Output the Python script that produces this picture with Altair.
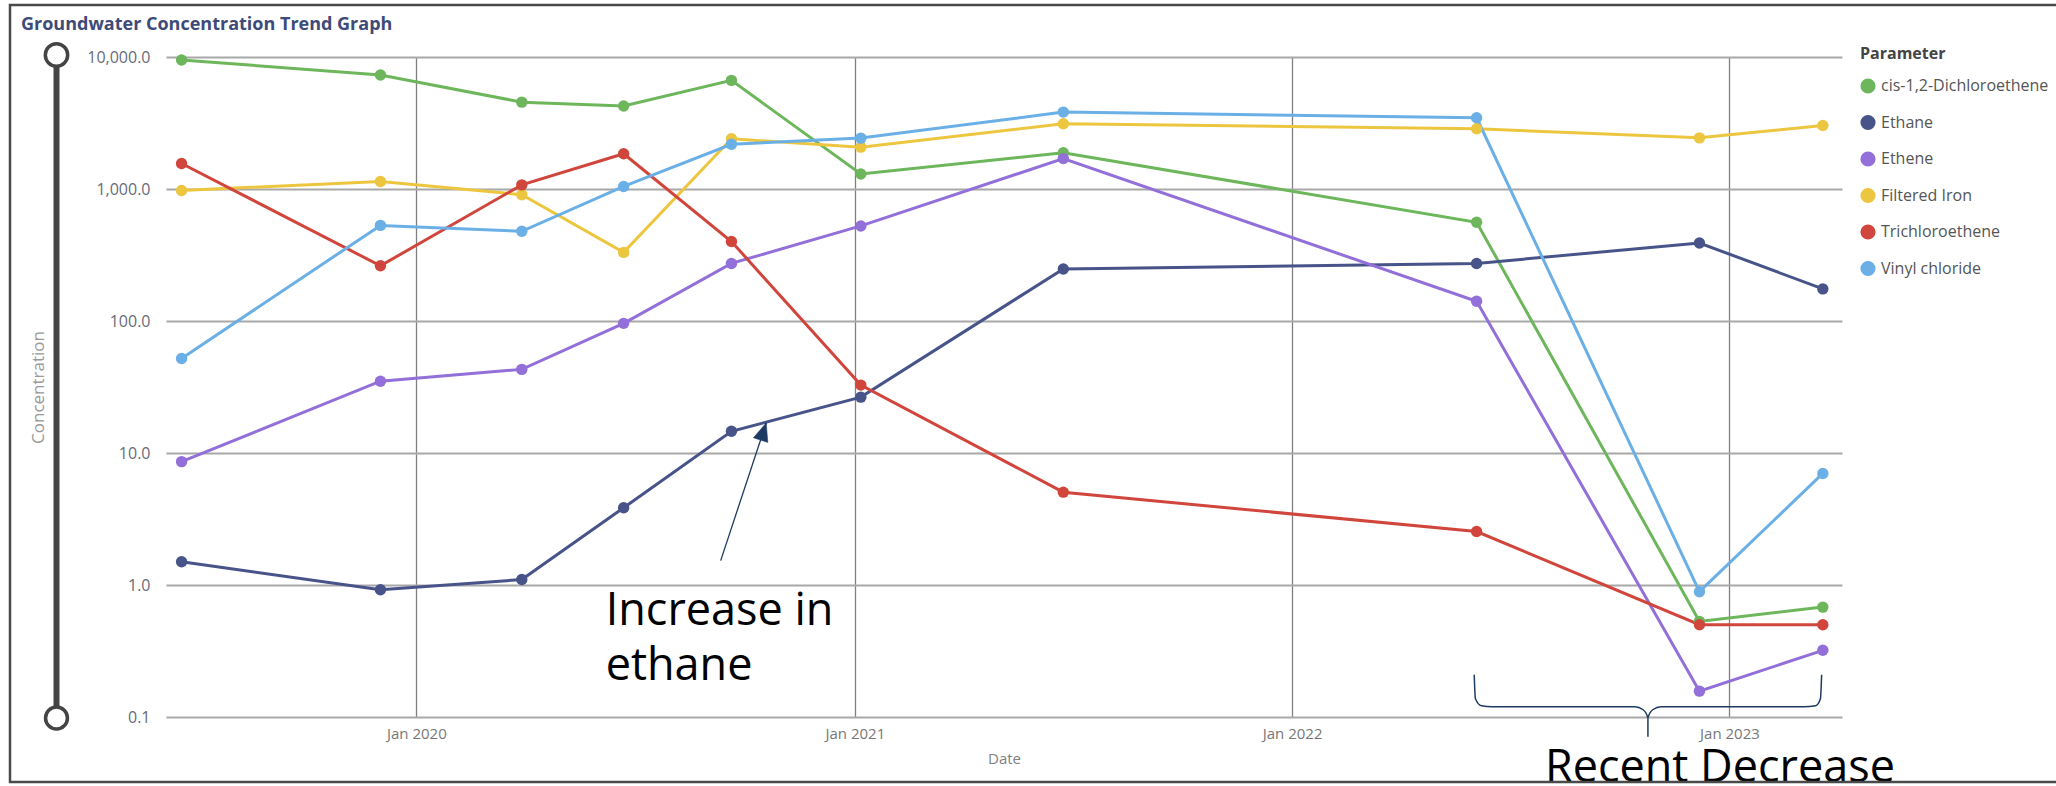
import altair as alt
import pandas as pd

# ---- sampling events (shared by every parameter) ----
sample_dates = [
    "2019-06-19", "2019-12-02", "2020-03-29", "2020-06-22", "2020-09-20",
    "2021-01-06", "2021-06-24", "2022-06-04", "2022-12-07", "2023-03-20",
]

parameters = [
    "cis-1,2-Dichloroethene", "Ethane", "Ethene",
    "Filtered Iron", "Trichloroethene", "Vinyl chloride",
]
palette = ["#6DB65B", "#475389", "#926FD9", "#EDC640", "#D1463C", "#6AAFE6"]

# ---- concentrations per parameter ----
cis_dce = [9500, 7300, 4550, 4250, 6650, 1300, 1880, 560, 0.53, 0.68]
ethane = [1.5, 0.92, 1.1, 3.85, 14.6, 26.5, 248, 273, 390, 175]
ethene = [8.6, 35, 43, 96, 273, 525, 1700, 141, 0.157, 0.32]
filtered_iron = [975, 1140, 905, 331, 2400, 2075, 3120, 2860, 2440, 3030]
tce = [1560, 262, 1075, 1850, 400, 32.7, 5.05, 2.54, 0.5, 0.5]
vinyl_chloride = [52, 530, 478, 1045, 2180, 2430, 3825, 3465, 0.89, 7.0]

series = [cis_dce, ethane, ethene, filtered_iron, tce, vinyl_chloride]

# ---- callouts (in date / concentration units) ----
arrow_dates = ["2020-09-11", "2020-10-19"]
arrow_values = [1.53, 16.9]

brace_dates = [
    "2022-06-02", "2022-06-03", "2022-06-08", "2022-06-17", "2022-10-14",
    "2022-10-21", "2022-10-25", "2022-10-25", "2022-10-25", "2022-10-29",
    "2022-11-05", "2023-03-04", "2023-03-14", "2023-03-18", "2023-03-19",
]
brace_values = [
    0.209, 0.1374, 0.1216, 0.1196, 0.1196,
    0.1135, 0.0986, 0.0708, 0.0986, 0.1135,
    0.1196, 0.1196, 0.1216, 0.1374, 0.209,
]

note_texts = ["Increase in\nethane", "Recent Decrease"]
note_dates = ["2020-06-07", "2022-07-31"]
note_values = [0.501, 0.0322]

chart_title = "Groundwater Concentration Trend Graph"

FONT = "Open Sans"
NAVY = "#1d3a63"

rows = []
for name, vals in zip(parameters, series):
    for d, v in zip(sample_dates, vals):
        rows.append({"Parameter": name, "Series": name, "Date": d, "Concentration": v})
df = pd.DataFrame(rows)

x_scale = alt.Scale(
    domain=[alt.DateTime(year=2019, month=6, date=6),
            alt.DateTime(year=2023, month=4, date=5)]
)
y_scale = alt.Scale(type="log", domain=[0.1, 10000], nice=False)

x_enc = alt.X(
    "Date:T",
    scale=x_scale,
    title="Date",
    axis=alt.Axis(
        values=[alt.DateTime(year=yr, month=1, date=1) for yr in (2020, 2021, 2022, 2023)],
        format="%b %Y",
        labelFont=FONT, labelFontSize=15, labelColor="#777777",
        labelPadding=9, ticks=False, tickSize=0, domain=False,
        grid=True, gridColor="#808080", gridWidth=1.3,
        titleFont=FONT, titleFontSize=15, titleFontWeight="normal",
        titleColor="#808080", titlePadding=10,
    ),
)
y_enc = alt.Y(
    "Concentration:Q",
    scale=y_scale,
    title="Concentration",
    axis=alt.Axis(
        values=[0.1, 1, 10, 100, 1000, 10000],
        format=",.1f",
        labelFont=FONT, labelFontSize=16, labelColor="#686b78",
        labelPadding=16, ticks=False, tickSize=0, domain=False,
        grid=True, gridColor="#a8a8a8", gridWidth=1.8,
        titleFont=FONT, titleFontSize=17, titleFontWeight="normal",
        titleColor="#999999", titlePadding=39,
    ),
)

# connecting lines: their own stroke scale with no legend
lines = alt.Chart(df).mark_line(strokeWidth=3).encode(
    x=x_enc, y=y_enc,
    stroke=alt.Stroke(
        "Series:N", scale=alt.Scale(domain=parameters, range=palette), legend=None
    ),
)

# sample markers carry the Parameter legend
points = alt.Chart(df).mark_circle(size=130, opacity=1).encode(
    x="Date:T", y="Concentration:Q",
    color=alt.Color(
        "Parameter:N", scale=alt.Scale(domain=parameters, range=palette),
        legend=alt.Legend(
            title="Parameter", orient="none", legendX=1694, legendY=-11,
            titleFont=FONT, titleFontSize=16, titleFontWeight="bold",
            titleColor="#444444", titlePadding=16,
            labelFont=FONT, labelFontSize=16, labelColor="#555555",
            labelOffset=5, labelLimit=0, symbolType="circle", symbolSize=230,
            symbolStrokeWidth=0, rowPadding=20.5, padding=0,
        ),
    ),
)

# arrow pointing at the rising ethane series
arrow_df = pd.DataFrame({"Date": arrow_dates, "Concentration": arrow_values})
arrow_shaft = alt.Chart(arrow_df).mark_line(color=NAVY, strokeWidth=1.3).encode(
    x="Date:T", y="Concentration:Q"
)
arrow_head = alt.Chart(arrow_df.tail(1)).mark_point(
    shape="M0,0 L-0.42,1 L0.42,1 Z", filled=True, fill=NAVY,
    stroke=NAVY, strokeWidth=0.5, size=1300, angle=18, opacity=1,
).encode(x="Date:T", y="Concentration:Q")

# curly brace grouping the latest samples
brace_df = pd.DataFrame({
    "Date": brace_dates, "Concentration": brace_values,
    "step": list(range(len(brace_dates))),
})
brace = alt.Chart(brace_df).mark_line(
    color=NAVY, strokeWidth=1.5, interpolate="monotone"
).encode(x="Date:T", y="Concentration:Q", order="step:Q")

notes_df = pd.DataFrame({"Date": note_dates, "Concentration": note_values, "note": note_texts})
notes = alt.Chart(notes_df).mark_text(
    align="left", baseline="alphabetic", font=FONT, fontSize=45,
    lineHeight=55, lineBreak="\n", color="#000000",
).encode(x="Date:T", y="Concentration:Q", text="note:N")

# chart heading, zoom slider along the value axis, and the outer frame
one = pd.DataFrame({"k": [0]})
heading = alt.Chart(one).mark_text(
    text=chart_title, align="left", baseline="alphabetic",
    font=FONT, fontSize=18, fontWeight="bold", color="#3e4a78",
).encode(x=alt.value(-145), y=alt.value(-27.5))
slider_bar = alt.Chart(one).mark_rule(color="#444444", strokeWidth=6).encode(
    x=alt.value(-109.5), y=alt.value(10), y2=alt.value(650)
)
slider_top = alt.Chart(one).mark_point(
    shape="circle", filled=True, fill="white", stroke="#444444",
    strokeWidth=3.5, size=500, opacity=1,
).encode(x=alt.value(-109.5), y=alt.value(-2))
slider_bottom = alt.Chart(one).mark_point(
    shape="circle", filled=True, fill="white", stroke="#444444",
    strokeWidth=3.5, size=480, opacity=1,
).encode(x=alt.value(-109.5), y=alt.value(661))
frame = alt.Chart(one).mark_rect(
    fillOpacity=0, stroke="#4a4a4a", strokeWidth=2.5
).encode(
    x=alt.value(-156), y=alt.value(-52), x2=alt.value(1910), y2=alt.value(725)
)

chart = alt.layer(
    lines, points, arrow_shaft, arrow_head, brace, notes,
    heading, slider_bar, slider_top, slider_bottom, frame,
).resolve_scale(
    color="independent", stroke="independent"
).properties(
    width=1676,
    height=660,
    padding={"left": 166, "top": 57, "right": 214, "bottom": 69},
    autosize=alt.AutoSizeParams(type="none"),
).configure_view(stroke=None)

chart.save("out.html", embed_options={"renderer": "svg", "actions": False})
